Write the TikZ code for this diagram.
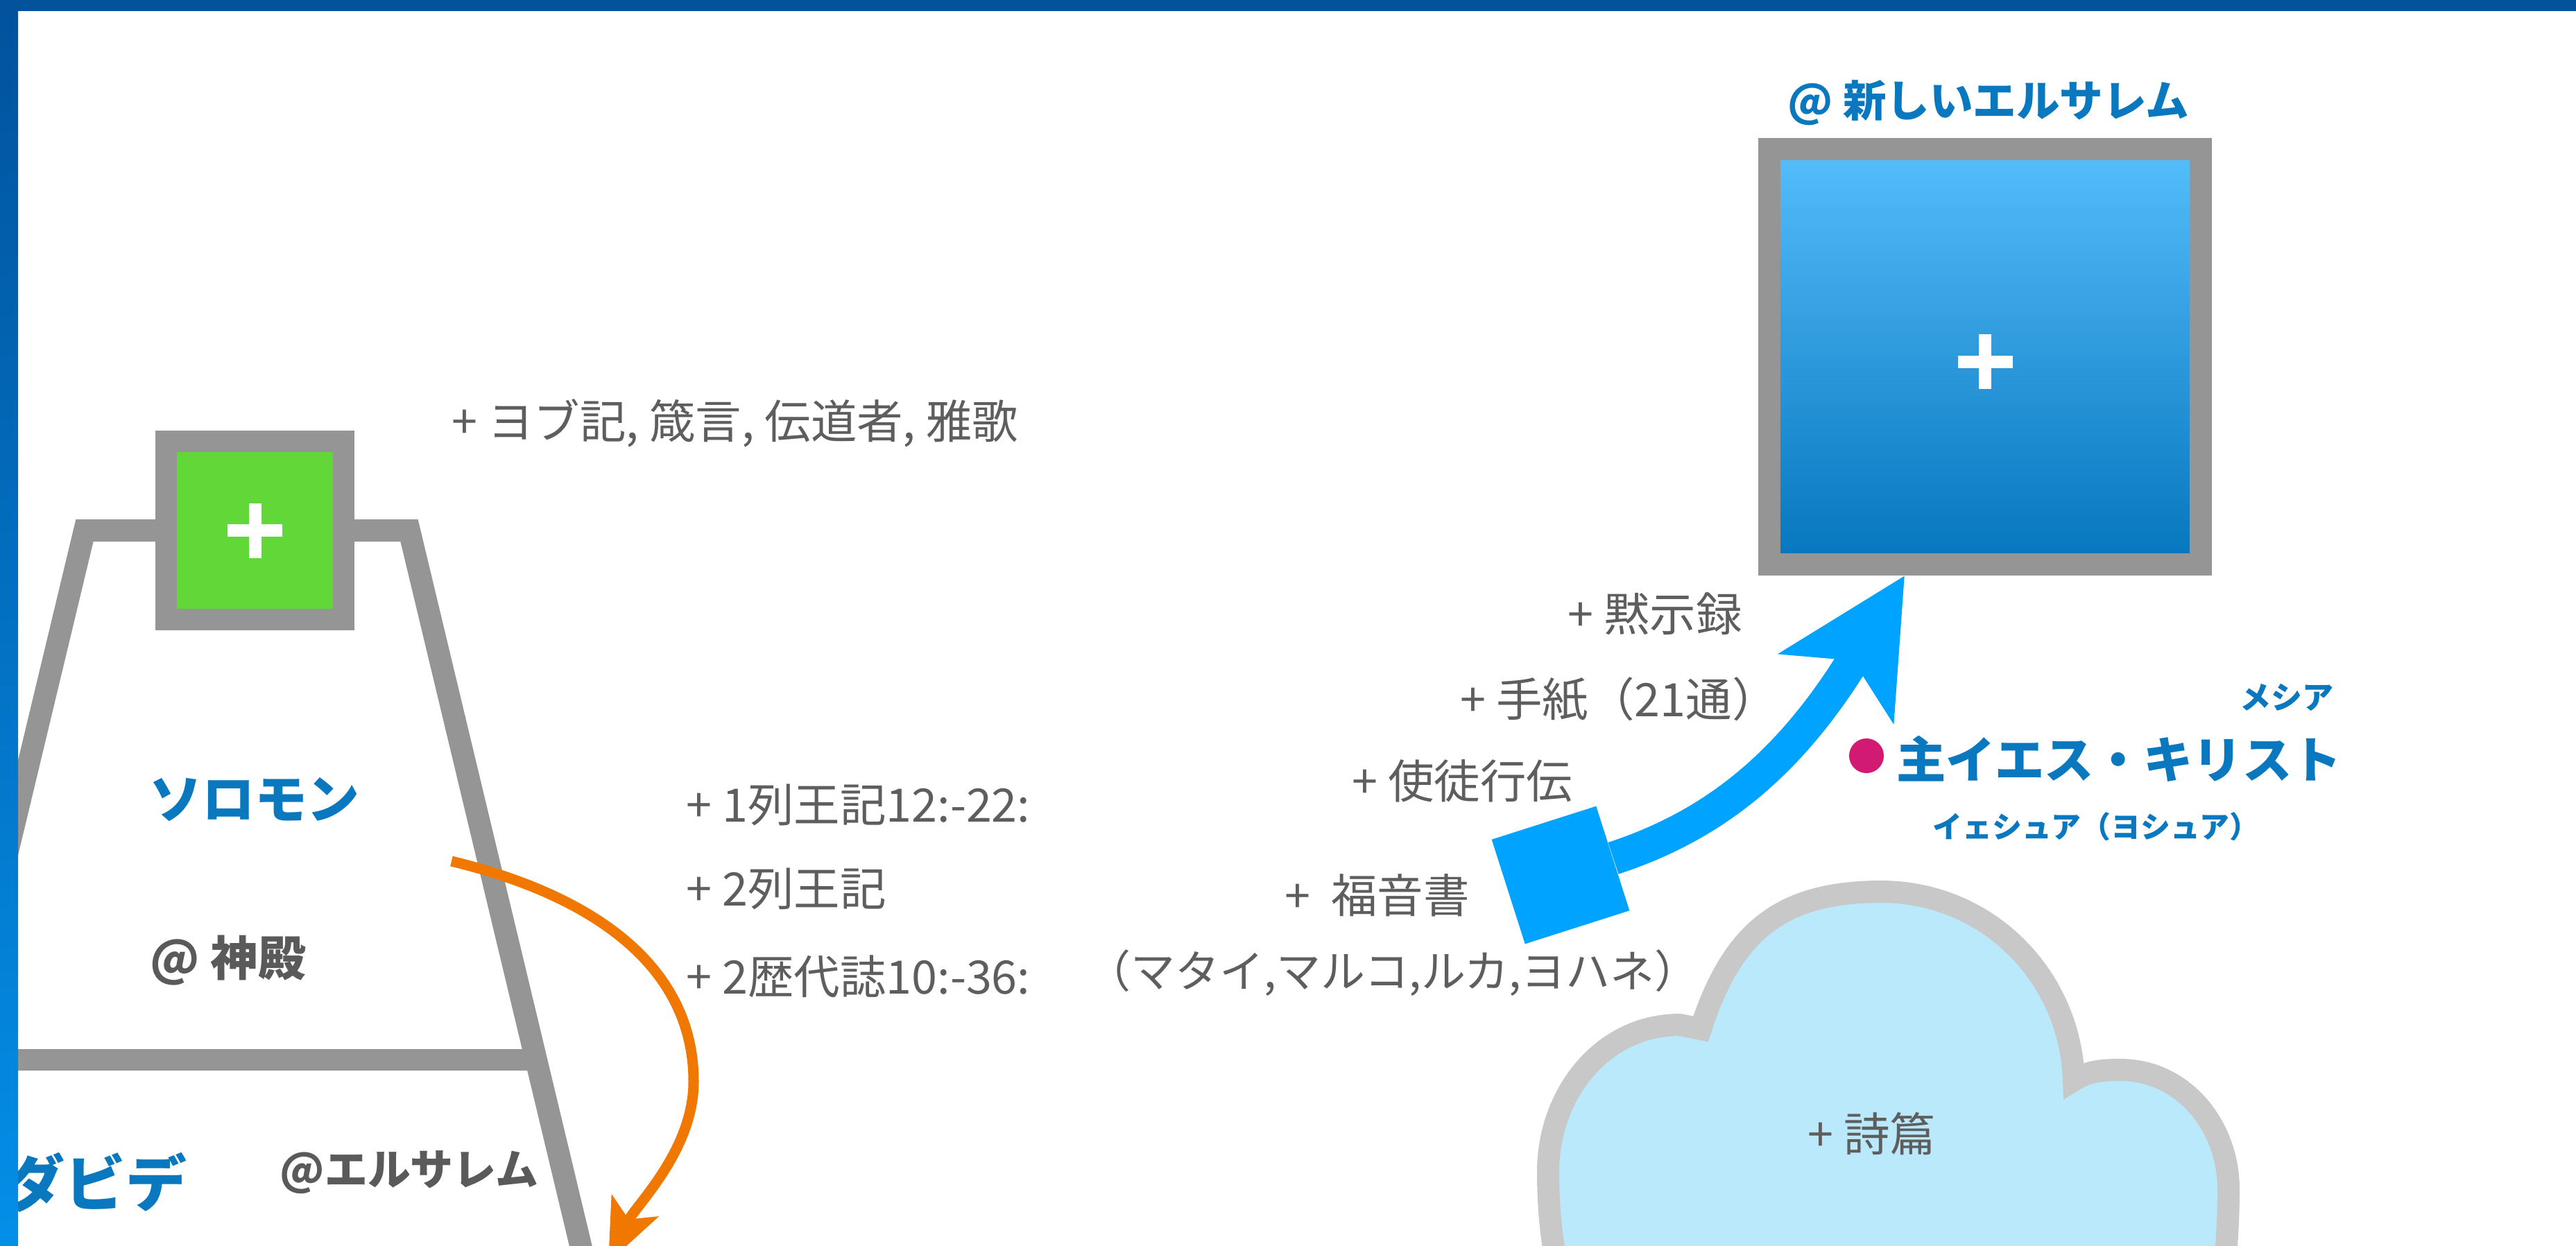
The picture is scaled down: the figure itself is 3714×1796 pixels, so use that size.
\documentclass[tikz,border=0pt]{standalone}
\usepackage{fontspec}
\newfontfamily\jp{Noto Sans CJK JP}
\usetikzlibrary{arrows.meta,calc}
\definecolor{linegray}{HTML}{959595}
\definecolor{boxgreen}{HTML}{62D838}
\definecolor{hwblue}{HTML}{0A78BE}
\definecolor{txtgray}{HTML}{5E5E5E}
\definecolor{hwgray}{HTML}{5A5A5A}
\definecolor{arrorange}{HTML}{F07700}
\definecolor{arrblue}{HTML}{00A3FF}
\definecolor{dotmag}{HTML}{D21A72}
\definecolor{cloudfill}{HTML}{BBE9FC}
\definecolor{cloudline}{HTML}{C8C8C8}
\definecolor{skytop}{HTML}{55BEFB}
\definecolor{skybot}{HTML}{0575BD}
\definecolor{bardark}{HTML}{02529C}
\definecolor{barlight}{HTML}{038FE8}
\begin{document}
\begin{tikzpicture}[x=0.01cm,y=-0.01cm,
  booktxt/.style={font=\jp\fontsize{18.9}{21}\selectfont, text=txtgray, inner sep=0pt, anchor=west},
  hwtxt/.style={font=\jp\bfseries\fontsize{#1}{#1}\selectfont, text=hwblue, inner sep=0pt},
  hwgraytxt/.style={font=\jp\bfseries\fontsize{#1}{#1}\selectfont, text=hwgray, inner sep=0pt},
  templeline/.style={draw=linegray, line width=0.32cm, line join=miter},
  framebox/.style={draw=linegray, inner sep=0pt},
]
\useasboundingbox (0,0) rectangle (3714,1796);
\fill[white] (0,0) rectangle (3714,1796);
\clip (0,0) rectangle (3714,1796);

% temple
\node[framebox, line width=0.31cm, fill=boxgreen, minimum size=2.56cm] (solbox) at (367.5,765) {};
\draw[templeline] (solbox.west) -- (122,765) -- (-40,1440);
\draw[templeline] (solbox.east) -- (590,765) -- (862,1900);
\draw[linegray, line width=0.31cm] (-10,1528) -- (773,1528);
\begin{scope}[shift={(solbox.center)}]
  \fill[white] (-39.5,-9) rectangle (39.5,9);
  \fill[white] (-9,-39.5) rectangle (9,39.5);
\end{scope}

\node[hwtxt=21.6] (solomon) at (367,1153) {ソロモン};
\node[hwgraytxt=19.5, anchor=west] (temple) at (216,1385) {@ 神殿};
\node[hwtxt=25, anchor=east] (david) at (270,1705) {ダビデ};
\node[hwgraytxt=17.6, anchor=west] (jer) at (403,1691) {@エルサレム};

% book labels
\node[booktxt] (wisdom) at (651,610) {+ ヨブ記, 箴言, 伝道者, 雅歌};
\node[booktxt] (kings1) at (989,1161) {+ 1列王記12:-22:};
\node[booktxt] (kings2) at (989,1282) {+ 2列王記};
\node[booktxt] (chron) at (989,1408) {+ 2歴代誌10:-36:};
\node[booktxt] (rev) at (2260,885) {+ 黙示録};
\node[booktxt] (letters) at (2105,1008) {+ 手紙（21通）};
\node[booktxt] (acts) at (1949,1126) {+ 使徒行伝};
\node[booktxt] (gospels) at (1852,1291) {+ \ 福音書};
\node[booktxt, anchor=center, font=\jp\fontsize{18.2}{20}\selectfont] (gosnames) at (2008,1403) {（マタイ,マルコ,ルカ,ヨハネ）};

% orange arrow
\coordinate (oraS) at (651,1242);
\coordinate (oraE) at (877,1821);
\draw[arrorange, line width=0.15cm, -{Stealth[length=25.6pt,width=20.8pt,inset=6pt]}]
  (oraS) .. controls (850,1290) and (1000,1390) .. (1000,1560)
  .. controls (1000,1660) and (915,1740) .. (oraE);

% new jerusalem
\node[framebox, line width=0.32cm, top color=skytop, bottom color=skybot,
      minimum width=6.22cm, minimum height=5.99cm] (nj) at (2862,514.5) {};
\begin{scope}[shift={(nj.center)}]
  \fill[white] (-39.5,-2) rectangle (39.5,16);
  \fill[white] (-9,-32.5) rectangle (9,46.5);
\end{scope}
\node[hwtxt=17.8] (njlabel) at (2867,148) {@ 新しいエルサレム};

% blue arrow
\node[fill=arrblue, rotate=17.7, minimum size=1.58cm, inner sep=0pt] (tail) at (2250,1262) {};
\draw[arrblue, line width=0.48cm, -{Stealth[length=53.5pt,width=53.8pt,inset=12.8pt]}]
  (tail.east) .. controls (2469,1191) and (2580,1104) .. ($(nj.south)+(-116,0)$);

% Jesus
\node[circle, fill=dotmag, minimum size=0.5cm, inner sep=0pt] (dot) at (2691,1090) {};
\node[hwtxt=20.3] (jesus) at (3055,1094) {主イエス・キリスト};
\node[hwtxt=12.8] (messiah) at (3297,1006) {メシア};
\node[hwtxt=12.2] (yeshua) at (3022,1192) {イェシュア（ヨシュア）};

% cloud
\draw[cloudline, fill=cloudfill, line width=0.32cm]
  (2262,1900) .. controls (2240,1820) and (2232,1760) .. (2232,1690)
  .. controls (2232,1579) and (2309,1478) .. (2422,1478)
  -- (2452,1484)
  .. controls (2497,1345) and (2566,1286) .. (2712,1286)
  .. controls (2865,1286) and (2985,1407) .. (2990,1558)
  .. controls (3010,1545) and (3030,1543) .. (3057,1543)
  .. controls (3148,1543) and (3213,1624) .. (3213,1715)
  .. controls (3213,1790) and (3205,1850) .. (3200,1900) -- cycle;
\node[booktxt] (psalms) at (2606,1635) {+ 詩篇};

% frame bars
\shade[top color=bardark, bottom color=barlight] (0,0) rectangle (26,1796);
\fill[bardark] (0,0) rectangle (3714,16);
\end{tikzpicture}
\end{document}
